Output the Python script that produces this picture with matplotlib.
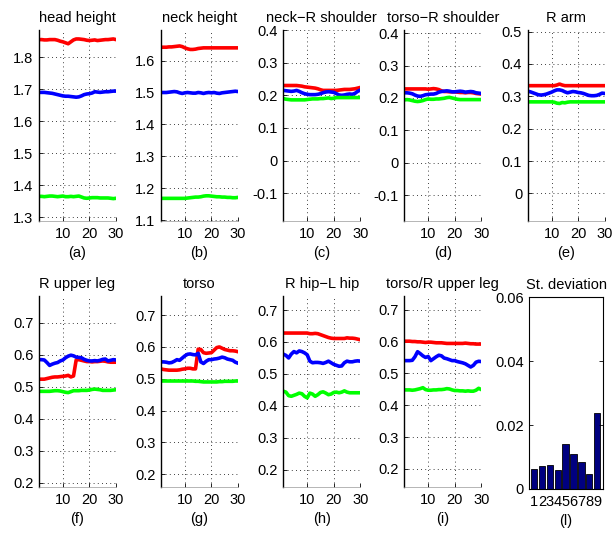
import numpy as np
import matplotlib
matplotlib.use('Agg')
import matplotlib.pyplot as plt

plt.rcParams['font.family'] = ['Liberation Sans', 'DejaVu Sans']
plt.rcParams['font.size'] = 10

frames = np.arange(1, 31)

# head height
head_r = [1.855,1.855,1.854,1.854,1.855,1.855,1.855,1.853,1.850,1.848,1.845,1.842,1.848,1.854,1.857,
          1.857,1.856,1.855,1.853,1.852,1.853,1.854,1.852,1.853,1.854,1.855,1.855,1.856,1.857,1.855]
head_b = [1.690,1.690,1.690,1.689,1.688,1.687,1.685,1.683,1.681,1.679,1.678,1.678,1.677,1.676,1.675,
          1.676,1.679,1.683,1.685,1.686,1.688,1.692,1.691,1.690,1.691,1.692,1.692,1.693,1.694,1.694]
head_g = [1.365,1.365,1.364,1.365,1.366,1.366,1.365,1.364,1.365,1.366,1.364,1.364,1.365,1.364,1.365,
          1.366,1.363,1.360,1.359,1.360,1.361,1.361,1.361,1.360,1.360,1.360,1.360,1.359,1.358,1.359]

# neck height
neck_r = [1.642,1.642,1.642,1.643,1.643,1.644,1.645,1.646,1.644,1.640,1.637,1.635,1.635,1.636,1.638,
          1.639,1.640,1.640,1.640,1.640,1.640,1.640,1.640,1.640,1.640,1.640,1.640,1.640,1.640,1.640]
neck_b = [1.500,1.500,1.500,1.501,1.502,1.503,1.502,1.499,1.497,1.499,1.500,1.499,1.498,1.498,1.500,
          1.499,1.497,1.499,1.500,1.499,1.500,1.498,1.497,1.499,1.500,1.501,1.502,1.503,1.504,1.503]
neck_g = [1.168,1.168,1.168,1.168,1.168,1.168,1.168,1.168,1.168,1.168,1.169,1.170,1.171,1.172,1.172,
          1.173,1.175,1.176,1.176,1.175,1.174,1.173,1.173,1.172,1.172,1.171,1.171,1.170,1.170,1.171]

# neck-R shoulder
nsh_r = [0.230,0.230,0.230,0.230,0.230,0.230,0.229,0.228,0.226,0.225,0.224,0.223,0.222,0.220,0.217,
         0.215,0.215,0.215,0.215,0.215,0.215,0.216,0.217,0.218,0.218,0.218,0.219,0.220,0.222,0.224]
nsh_b = [0.215,0.214,0.213,0.212,0.213,0.215,0.212,0.208,0.205,0.203,0.202,0.202,0.202,0.203,0.205,
         0.208,0.210,0.211,0.210,0.209,0.205,0.201,0.200,0.201,0.203,0.204,0.203,0.206,0.212,0.216]
nsh_g = [0.190,0.188,0.187,0.186,0.186,0.186,0.186,0.186,0.186,0.187,0.188,0.189,0.189,0.189,0.190,
         0.190,0.191,0.192,0.190,0.191,0.193,0.193,0.193,0.193,0.193,0.193,0.193,0.193,0.193,0.193]

# torso-R shoulder
tsh_r = [0.228,0.228,0.228,0.228,0.228,0.228,0.228,0.228,0.228,0.227,0.228,0.229,0.228,0.226,0.222,
         0.220,0.220,0.219,0.219,0.219,0.218,0.217,0.217,0.216,0.217,0.217,0.216,0.214,0.213,0.212]
tsh_b = [0.216,0.216,0.215,0.213,0.209,0.206,0.205,0.207,0.210,0.211,0.212,0.212,0.214,0.218,0.220,
         0.221,0.222,0.221,0.219,0.219,0.220,0.221,0.220,0.218,0.219,0.220,0.219,0.216,0.215,0.214]
tsh_g = [0.194,0.195,0.194,0.192,0.190,0.189,0.190,0.192,0.195,0.197,0.196,0.196,0.197,0.197,0.198,
         0.199,0.201,0.202,0.200,0.198,0.196,0.195,0.195,0.195,0.195,0.195,0.195,0.195,0.195,0.195]

# R arm
arm_r = [0.333,0.333,0.333,0.333,0.333,0.333,0.333,0.333,0.333,0.333,0.333,0.335,0.338,0.335,0.333,
         0.333,0.333,0.333,0.333,0.333,0.333,0.333,0.333,0.333,0.333,0.333,0.333,0.333,0.333,0.333]
arm_b = [0.316,0.314,0.311,0.308,0.305,0.304,0.305,0.307,0.310,0.313,0.317,0.320,0.320,0.318,0.314,
         0.311,0.313,0.315,0.314,0.312,0.311,0.309,0.306,0.303,0.302,0.302,0.303,0.306,0.310,0.309]
arm_g = [0.283,0.283,0.283,0.283,0.283,0.283,0.283,0.283,0.283,0.283,0.282,0.279,0.278,0.281,0.280,
         0.282,0.283,0.283,0.283,0.283,0.283,0.283,0.283,0.283,0.283,0.283,0.283,0.283,0.283,0.283]

# R upper leg
leg_r = [0.523,0.523,0.523,0.525,0.527,0.529,0.530,0.530,0.531,0.532,0.533,0.535,0.530,0.533,0.583,
         0.584,0.582,0.580,0.578,0.578,0.577,0.578,0.578,0.579,0.580,0.579,0.577,0.576,0.576,0.576]
leg_b = [0.584,0.584,0.583,0.575,0.566,0.570,0.573,0.575,0.580,0.583,0.590,0.595,0.598,0.596,0.592,
         0.591,0.590,0.585,0.582,0.580,0.580,0.581,0.580,0.582,0.585,0.586,0.580,0.582,0.584,0.583]
leg_g = [0.485,0.485,0.485,0.485,0.485,0.486,0.487,0.487,0.486,0.484,0.482,0.481,0.484,0.487,0.487,
         0.487,0.488,0.488,0.488,0.489,0.491,0.492,0.491,0.490,0.488,0.488,0.488,0.488,0.489,0.490]

# torso
tor_r = [0.531,0.529,0.528,0.527,0.527,0.527,0.527,0.528,0.530,0.531,0.533,0.533,0.531,0.531,0.593,
         0.592,0.582,0.580,0.581,0.582,0.590,0.598,0.600,0.596,0.592,0.590,0.588,0.588,0.587,0.585]
tor_b = [0.553,0.553,0.552,0.550,0.551,0.555,0.560,0.558,0.565,0.572,0.577,0.578,0.576,0.575,0.580,
         0.553,0.548,0.555,0.560,0.560,0.562,0.563,0.565,0.568,0.566,0.562,0.560,0.558,0.552,0.549]
tor_g = [0.493,0.493,0.493,0.493,0.493,0.493,0.493,0.493,0.493,0.493,0.493,0.493,0.493,0.492,0.492,
         0.491,0.490,0.490,0.490,0.490,0.490,0.490,0.491,0.491,0.492,0.492,0.492,0.492,0.493,0.493]

# R hip-L hip
hip_r = [0.628,0.628,0.628,0.628,0.628,0.628,0.628,0.628,0.628,0.628,0.626,0.626,0.627,0.626,0.623,
         0.620,0.617,0.614,0.612,0.611,0.611,0.611,0.611,0.611,0.613,0.612,0.612,0.611,0.609,0.607]
hip_b = [0.562,0.558,0.550,0.562,0.570,0.566,0.572,0.570,0.566,0.560,0.540,0.535,0.536,0.536,0.535,
         0.533,0.536,0.540,0.535,0.530,0.527,0.524,0.525,0.535,0.540,0.538,0.538,0.540,0.541,0.540]
hip_g = [0.446,0.443,0.432,0.430,0.433,0.436,0.440,0.438,0.430,0.425,0.440,0.437,0.430,0.435,0.442,
         0.444,0.440,0.435,0.437,0.442,0.443,0.441,0.443,0.447,0.443,0.441,0.441,0.441,0.441,0.441]

# torso/R upper leg
tl_r = [0.601,0.601,0.601,0.600,0.600,0.599,0.599,0.598,0.597,0.598,0.598,0.597,0.596,0.596,0.596,
        0.595,0.594,0.594,0.594,0.594,0.594,0.594,0.594,0.595,0.594,0.593,0.593,0.592,0.592,0.592]
tl_b = [0.540,0.540,0.540,0.541,0.552,0.568,0.562,0.555,0.550,0.553,0.540,0.546,0.552,0.557,0.555,
        0.548,0.546,0.543,0.540,0.540,0.537,0.535,0.533,0.530,0.525,0.520,0.525,0.535,0.538,0.537]
tl_g = [0.448,0.448,0.448,0.447,0.448,0.450,0.452,0.455,0.449,0.447,0.447,0.448,0.448,0.449,0.449,
        0.450,0.452,0.451,0.448,0.446,0.446,0.445,0.445,0.444,0.445,0.444,0.444,0.447,0.453,0.449]

titles = ['head height', 'neck height', 'neck\u2212R shoulder', 'torso\u2212R shoulder', 'R arm',
          'R upper leg', 'torso', 'R hip\u2212L hip', 'torso/R upper leg']
letters = ['(a)', '(b)', '(c)', '(d)', '(e)', '(f)', '(g)', '(h)', '(i)']
series = [(head_r, head_b, head_g), (neck_r, neck_b, neck_g), (nsh_r, nsh_b, nsh_g),
          (tsh_r, tsh_b, tsh_g), (arm_r, arm_b, arm_g), (leg_r, leg_b, leg_g),
          (tor_r, tor_b, tor_g), (hip_r, hip_b, hip_g), (tl_r, tl_b, tl_g)]
ylims = [(1.288, 1.885), (1.097, 1.696), (-0.185, 0.40), (-0.18, 0.41), (-0.085, 0.505),
         (0.186, 0.783), (0.16, 0.76), (0.146, 0.744), (0.143, 0.743)]
yticks = [np.arange(1.3, 1.81, 0.1), np.arange(1.1, 1.61, 0.1), np.arange(-0.1, 0.41, 0.1),
          np.arange(-0.1, 0.41, 0.1), np.arange(0, 0.51, 0.1), np.arange(0.2, 0.71, 0.1),
          np.arange(0.2, 0.71, 0.1), np.arange(0.2, 0.71, 0.1), np.arange(0.2, 0.71, 0.1)]

# standard deviations
sd_idx = np.arange(1, 10)
sd_vals = [0.0063, 0.0072, 0.0075, 0.0059, 0.0141, 0.0111, 0.0085, 0.0048, 0.0239]

fig = plt.figure(figsize=(6.12, 5.36), dpi=100)
W, H = 612, 536
lefts = [39, 161, 283.3, 404.3, 527.7]

def make_ax(left, top, w, h):
    return fig.add_axes([left / W, 1 - (top + h) / H, w / W, h / H])

for k in range(9):
    row, col = divmod(k, 5)
    top = 30 if row == 0 else 296
    ax = make_ax(lefts[col], top, 77, 191)
    r, b, g = series[k]
    ax.plot(frames, r, color='red', lw=2.6)
    ax.plot(frames, b, color='blue', lw=2.6)
    ax.plot(frames, g, color=(0, 1, 0), lw=2.6)
    ax.set_xlim(1, 30)
    ax.set_ylim(*ylims[k])
    ax.set_xticks([10, 20, 30])
    ax.set_yticks(yticks[k])
    ax.set_yticklabels(['%g' % round(v, 2) if abs(v) > 1e-9 else '0' for v in yticks[k]])
    ax.grid(True, color='black', linestyle=(0, (1, 4)), lw=0.6)
    ax.spines['top'].set_visible(False)
    ax.spines['right'].set_visible(False)
    ax.spines['left'].set_linewidth(1.0)
    ax.spines['bottom'].set_color('0.6')
    ax.spines['bottom'].set_linewidth(0.5)
    ax.tick_params(direction='in', length=3, width=0.6, labelsize=10.5, pad=4)
    ax.set_title(titles[k], fontsize=10.5, pad=6)
    ax.set_xlabel(letters[k], fontsize=10.5, labelpad=4)

# (l) bar chart
ax = make_ax(529.3, 297.3, 73.4, 191.7)
ax.bar(sd_idx, sd_vals, width=0.8, color=(0, 0, 0.5), edgecolor='black', lw=0.6)
ax.set_xlim(0.4, 9.7)
ax.set_ylim(0, 0.06)
ax.set_xticks(sd_idx)
ax.set_xticklabels([str(i) for i in sd_idx])
ax.set_yticks([0, 0.02, 0.04, 0.06])
ax.set_yticklabels(['0', '0.02', '0.04', '0.06'])
ax.tick_params(direction='in', length=3, width=0.6, labelsize=10.5, pad=4, right=True, top=False)
ax.tick_params(axis='x', length=0)
ax.set_title('St. deviation', fontsize=10.5, pad=6)
ax.set_xlabel('(l)', fontsize=10.5, labelpad=4)

fig.savefig('out.png', dpi=100)
